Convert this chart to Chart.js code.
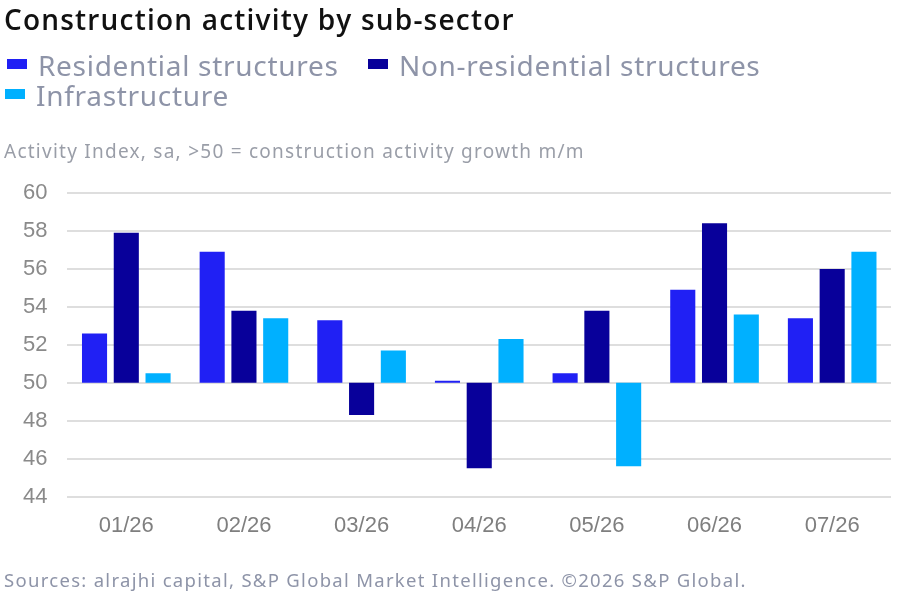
<!DOCTYPE html>
<html>
<head>
<meta charset="utf-8">
<script src="https://cdn.jsdelivr.net/npm/chart.js@4"></script>
<style>
  body { margin: 0; background: #fff; }
  #wrap { position: relative; width: 900px; height: 602px; overflow: hidden; }
  #title { position: absolute; left: 4px; top: 0px; font: 600 28px "Open Sans", sans-serif; letter-spacing: 1.2px; color: #111; white-space: nowrap; }
  .leg { position: absolute; font: 400 28px "Noto Sans", sans-serif; letter-spacing: 0.7px; color: #8e94a8; white-space: nowrap; }
  .leg span.box { display: inline-block; width: 20px; height: 10px; margin-right: 11px; vertical-align: 7px; }
  #sub { position: absolute; left: 4px; top: 138px; font: 400 19px "Noto Sans", sans-serif; letter-spacing: 1.25px; color: #9a9ea8; white-space: nowrap; }
  #src { position: absolute; left: 4px; top: 567px; font: 400 18.5px "Noto Sans", sans-serif; letter-spacing: 1.3px; color: #8e94a8; white-space: nowrap; }
  #chartBox { position: absolute; left: 0; top: 0; width: 900px; height: 602px; }
</style>
</head>
<body>
<div id="wrap">
  <div id="chartBox"><canvas id="barChart"></canvas></div>
  <div id="title">Construction activity by sub-sector</div>
  <div id="legend"></div>
  <div id="sub">Activity Index, sa, &gt;50 = construction activity growth m/m</div>
  <div id="src">Sources: alrajhi capital, S&amp;P Global Market Intelligence. ©2026 S&amp;P Global.</div>
</div>
<script>
const categories = ["01/26", "02/26", "03/26", "04/26", "05/26", "06/26", "07/26"];
const residential = [52.6, 56.9, 53.3, 50.1, 50.5, 54.9, 53.4];
const nonResidential = [57.9, 53.8, 48.3, 45.5, 53.8, 58.4, 56.0];
const infrastructure = [50.5, 53.4, 51.7, 52.3, 45.6, 53.6, 56.9];
const baseline = 50;
const yMin = 44;
const yMax = 60;
const yStep = 2;

const series = [
    { label: "Residential structures", values: residential, color: "#2020f4" },
    { label: "Non-residential structures", values: nonResidential, color: "#08009a" },
    { label: "Infrastructure", values: infrastructure, color: "#00b0ff" }
];

// legend (html, two rows like the original)
const legendPos = [[7, 46], [368, 46], [5, 76]];
const legendEl = document.getElementById("legend");
series.forEach((s, i) => {
    const d = document.createElement("div");
    d.className = "leg";
    d.style.left = legendPos[i][0] + "px";
    d.style.top = legendPos[i][1] + "px";
    d.innerHTML = '<span class="box" style="background:' + s.color + '"></span>' + s.label;
    legendEl.appendChild(d);
});

// bars float from the 50 line
const datasets = series.map(s => ({
    label: s.label,
    data: s.values.map(v => [baseline, v]),
    backgroundColor: s.color,
    categoryPercentage: 0.81,
    barPercentage: 0.79
}));

new Chart(document.getElementById("barChart"), {
    type: "bar",
    data: { labels: categories, datasets: datasets },
    options: {
        responsive: true,
        maintainAspectRatio: false,
        animation: false,
        layout: { padding: { top: 193, left: 3, right: 9, bottom: 55 } },
        plugins: {
            legend: { display: false },
            tooltip: { enabled: false }
        },
        scales: {
            x: {
                grid: { display: false },
                border: { display: false },
                ticks: { color: "#7f7f7f", font: { family: "Liberation Sans", size: 22 }, padding: 8 }
            },
            y: {
                min: yMin,
                max: yMax,
                grid: { color: "#dedede", lineWidth: 2, drawTicks: false },
                border: { display: false },
                ticks: { stepSize: yStep, color: "#8a8a8a", font: { family: "Liberation Sans", size: 22 }, padding: 20 }
            }
        }
    }
});
</script>
</body>
</html>
